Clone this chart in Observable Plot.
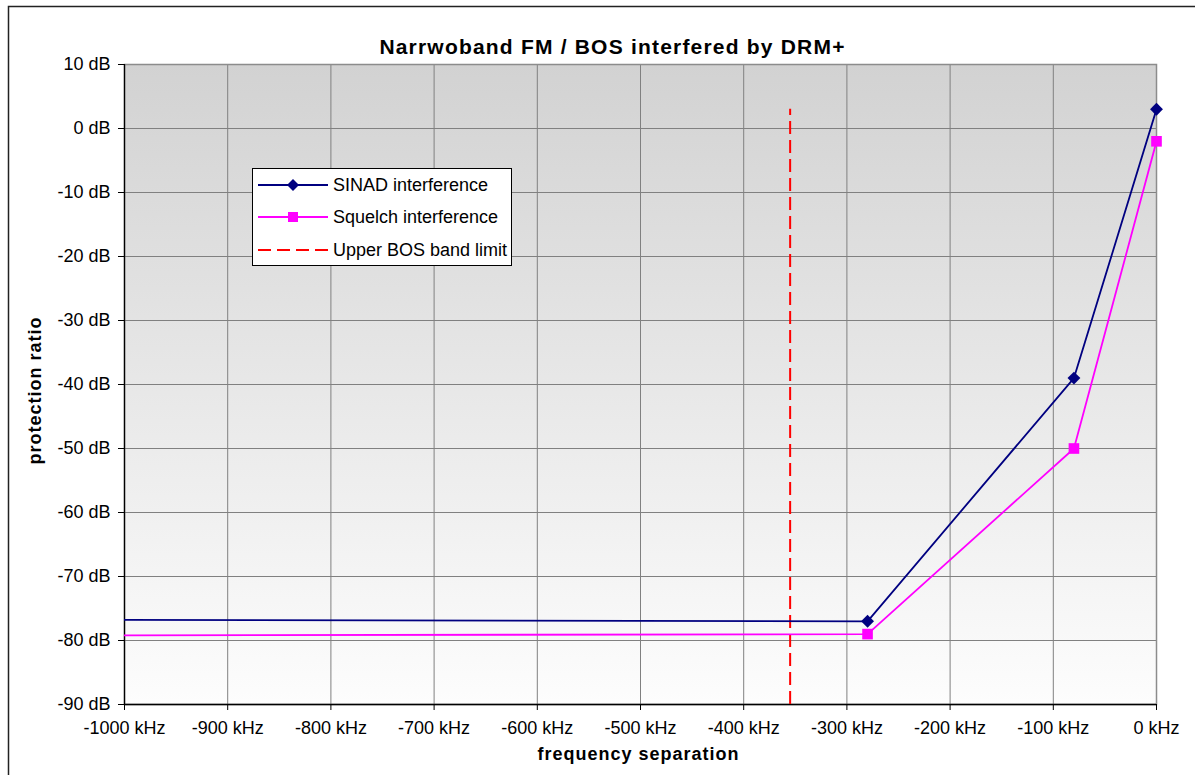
<!DOCTYPE html>
<html>
<head>
<meta charset="utf-8">
<script src="https://cdn.jsdelivr.net/npm/d3@7"></script>
<script src="https://cdn.jsdelivr.net/npm/@observablehq/plot@0.6"></script>
<style>
  html, body { margin: 0; padding: 0; background: #fff; }
  #chart svg { display: block; }
</style>
</head>
<body>
<div id="chart"></div>
<script>
// ---- data ----
const titleText = "Narrwoband FM / BOS interfered by DRM+";
const xLabel = "frequency separation";
const yLabel = "protection ratio";
const freqKHz = [-2000, -280, -80, 0];
const sinadDB = [-76.5, -77, -39, 3];
const squelchDB = [-79.5, -79, -50, -2];
const bosLimitKHz = [-355];
const bosLimitRange = [-90, 3];
const xTicks = [-1000, -900, -800, -700, -600, -500, -400, -300, -200, -100, 0];
const yTicks = [10, 0, -10, -20, -30, -40, -50, -60, -70, -80, -90];
const seriesNames = ["SINAD interference", "Squelch interference", "Upper BOS band limit"];
const seriesColors = ["#000080", "#ff00ff", "#ff0000"];

const sinad = freqKHz.map((f, i) => ({f, v: sinadDB[i]}));
const squelch = freqKHz.map((f, i) => ({f, v: squelchDB[i]}));
const inDomain = d => d.f >= -1000 && d.f <= 0;

const FONT = "'Liberation Sans', Arial, sans-serif";

const plot = Plot.plot({
  width: 1195,
  height: 775,
  marginTop: 64,
  marginLeft: 124,
  marginRight: 39,
  marginBottom: 71,
  style: {fontFamily: FONT, fontSize: "18px", color: "#000", background: "#fff"},
  x: {domain: [-1000, 0], label: null},
  y: {domain: [-90, 10], label: null},
  marks: [
    Plot.frame({fill: "url(#bgGrad)", stroke: "none"}),
    Plot.gridX(xTicks, {stroke: "#808080", strokeOpacity: 1, strokeWidth: 1}),
    Plot.gridY(yTicks, {stroke: "#808080", strokeOpacity: 1, strokeWidth: 1}),
    Plot.frame({stroke: "#8c8c8c", strokeWidth: 1.5, fill: "none"}),
    Plot.ruleX([-1000], {stroke: "#000", strokeWidth: 1.3}),
    Plot.ruleY([-90], {stroke: "#000", strokeWidth: 1.3}),
    Plot.axisX({ticks: xTicks, tickFormat: d => `${d} kHz`, tickSize: 6, tickPadding: 11, fontSize: 18, label: null}),
    Plot.axisY({ticks: yTicks, tickFormat: d => `${d} dB`, tickSize: 6, tickPadding: 8, fontSize: 18, label: null}),
    Plot.ruleX(bosLimitKHz, {y1: bosLimitRange[0], y2: bosLimitRange[1], stroke: seriesColors[2], strokeWidth: 2, strokeDasharray: "13,6"}),
    Plot.line(sinad, {x: "f", y: "v", stroke: seriesColors[0], strokeWidth: 1.8, clip: true}),
    Plot.line(squelch, {x: "f", y: "v", stroke: seriesColors[1], strokeWidth: 1.8, clip: true}),
    Plot.dot(sinad.filter(inDomain), {x: "f", y: "v", symbol: "diamond2", fill: seriesColors[0], stroke: "none", r: 5.8}),
    Plot.dot(squelch.filter(inDomain), {x: "f", y: "v", symbol: "square", fill: seriesColors[1], stroke: "none", r: 6}),
    Plot.text([titleText], {frameAnchor: "top", textAnchor: "middle", dx: -28, dy: -25, fontWeight: "bold", fontSize: 21, fill: "#000"}),
    Plot.text([xLabel], {frameAnchor: "bottom", textAnchor: "middle", dx: -2, dy: 55, fontWeight: "bold", fontSize: 18, fill: "#000"}),
    Plot.text([yLabel], {frameAnchor: "left", textAnchor: "middle", dx: -89, dy: 6, rotate: -90, fontWeight: "bold", fontSize: 18, fill: "#000"})
  ]
});

const svg = d3.select(plot);
const defs = svg.insert("defs", ":first-child");
const grad = defs.append("linearGradient").attr("id", "bgGrad").attr("x1", 0).attr("y1", 0).attr("x2", 0).attr("y2", 1);
grad.append("stop").attr("offset", "0%").attr("stop-color", "#d2d2d2");
grad.append("stop").attr("offset", "100%").attr("stop-color", "#fdfdfd");

// letter spacing for bold labels (Excel-like)
svg.selectAll("text").each(function() {
  const t = this.textContent;
  if (t === titleText) this.style.letterSpacing = "1.2px";
  else if (t === xLabel || t === yLabel) this.style.letterSpacing = "1px";
});

// legend
const lg = svg.append("g");
lg.append("rect").attr("x", 252.5).attr("y", 168.5).attr("width", 259).attr("height", 97)
  .attr("fill", "#fff").attr("stroke", "#000").attr("stroke-width", 1);
const rowsY = [185, 217, 250];
seriesNames.forEach((name, i) => {
  const y = rowsY[i];
  const line = lg.append("line").attr("x1", 258).attr("x2", 328).attr("y1", y).attr("y2", y)
    .attr("stroke", seriesColors[i]).attr("stroke-width", i === 2 ? 2 : 1.8);
  if (i === 2) line.attr("stroke-dasharray", "13,6");
  if (i === 0) lg.append("path").attr("d", `M293,${y-6}L299,${y}L293,${y+6}L287,${y}Z`).attr("fill", seriesColors[0]);
  if (i === 1) lg.append("rect").attr("x", 288).attr("y", y - 5).attr("width", 10).attr("height", 10).attr("fill", seriesColors[1]);
  lg.append("text").attr("x", 333).attr("y", y).attr("dy", "0.35em")
    .style("text-anchor", "start").style("font-size", "18px").style("font-family", FONT)
    .attr("fill", "#000").text(name);
});

// outer chart border
svg.append("rect").attr("x", 8.5).attr("y", 6.5).attr("width", 1200).attr("height", 800)
  .attr("fill", "none").attr("stroke", "#222").attr("stroke-width", 1.5);

document.getElementById("chart").appendChild(plot);
</script>
</body>
</html>
